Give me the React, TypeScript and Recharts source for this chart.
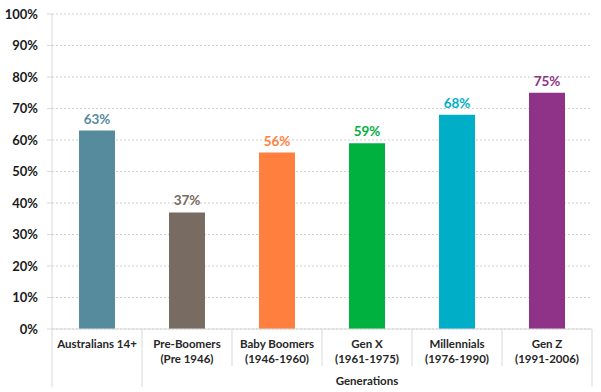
import React from 'react';
import { BarChart, Bar, XAxis, YAxis, CartesianGrid, Cell } from 'recharts';

const categoryNames = ['Australians 14+', 'Pre-Boomers', 'Baby Boomers', 'Gen X', 'Millennials', 'Gen Z'];
const categoryYears = ['', '(Pre 1946)', '(1946-1960)', '(1961-1975)', '(1976-1990)', '(1991-2006)'];
const values = [63, 37, 56, 59, 68, 75];
const barColors = ['#568B9E', '#786B62', '#FF7F3F', '#00B140', '#00AEC7', '#8E3388'];
const yTicks = [0, 10, 20, 30, 40, 50, 60, 70, 80, 90, 100];
const groupLabel = 'Generations';

const data = categoryNames.map((name, i) => ({ name, years: categoryYears[i], value: values[i] }));

const FONT = "Lato, 'Open Sans', sans-serif";
const LINE = '#D9D9D9';

const CatTick = (props: any) => {
  const { x, y, payload, index, width } = props;
  const n = categoryNames.length;
  const band = (width || 540) / n;
  const left = x - band / 2;
  const right = x + band / 2;
  const i = index ?? payload.index ?? 0;
  const longLeft = i <= 1;
  const longRight = i === n - 1;
  const years = categoryYears[i];
  return (
    <g>
      <line x1={left} x2={left} y1={y} y2={y + (longLeft ? 58 : 37)} stroke={LINE} strokeWidth={1} />
      {i === n - 1 && (
        <line x1={right} x2={right} y1={y} y2={y + (longRight ? 58 : 37)} stroke={LINE} strokeWidth={1} />
      )}
      <text x={x} y={y + 19} textAnchor="middle" fontFamily={FONT} fontWeight="bold" fontSize={11.5} fill="#262626">
        {payload.value}
      </text>
      {years && (
        <text x={x} y={y + 34} textAnchor="middle" fontFamily={FONT} fontWeight="bold" fontSize={11.5} fill="#262626">
          {years}
        </text>
      )}
      {i === 3 && (
        <text x={x} y={y + 56} textAnchor="middle" fontFamily={FONT} fontWeight="bold" fontSize={11.5} fill="#262626">
          {groupLabel}
        </text>
      )}
    </g>
  );
};

const ValueLabel = (props: any) => {
  const { x, y, width, value, index } = props;
  return (
    <text x={x + width / 2} y={y - 7} textAnchor="middle" fontFamily={FONT} fontWeight="bold" fontSize={13.5} fill={barColors[index]}>
      {value}%
    </text>
  );
};

export default function App() {
  return (
    <div style={{ position: 'absolute', left: 0, top: 0, background: '#fff' }}>
      <BarChart width={601} height={392} data={data} margin={{ top: 14, right: 9, bottom: 0, left: 0 }} barCategoryGap="30%">
        <CartesianGrid vertical={false} stroke="#CFCFCF" strokeDasharray="2 2" />
        <XAxis
          dataKey="name"
          height={63}
          interval={0}
          tickLine={false}
          tickSize={0}
          tickMargin={0}
          axisLine={{ stroke: LINE }}
          tick={<CatTick />}
        />
        <YAxis
          width={52}
          domain={[0, 100]}
          ticks={yTicks}
          interval={0}
          tickFormatter={(v: number) => `${v}%`}
          axisLine={{ stroke: LINE }}
          tickLine={{ stroke: LINE }}
          tickSize={5}
          tickMargin={9}
          tick={{ fontFamily: FONT, fontWeight: 'bold', fontSize: 13, fill: '#1a1a1a' }}
        />
        <Bar dataKey="value" isAnimationActive={false} label={<ValueLabel />}>
          {data.map((d, i) => (
            <Cell key={d.name} fill={barColors[i]} />
          ))}
        </Bar>
      </BarChart>
    </div>
  );
}
